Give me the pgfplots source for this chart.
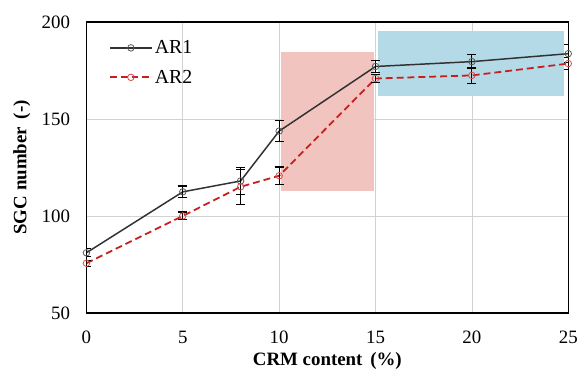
\documentclass[border=0pt]{standalone}
\usepackage{pgfplots}
\pgfplotsset{compat=1.18}
\usepackage{fontspec}
\setmainfont{Liberation Serif}
\definecolor{pinkbox}{RGB}{242,196,192}
\definecolor{bluebox}{RGB}{180,218,232}
\definecolor{arone}{RGB}{50,50,50}
\definecolor{artwo}{RGB}{200,30,30}
\begin{document}
\begin{tikzpicture}
\begin{axis}[
  scale only axis,
  width=485bp, height=293bp,
  xmin=0, xmax=25, ymin=50, ymax=200,
  xtick={0,5,10,15,20,25},
  ytick={50,100,150,200},
  grid=major,
  grid style={gray!35, line width=0.7pt},
  major tick length=0pt,
  axis line style={black, line width=1.4pt},
  /pgf/number format/assume math mode=true,
  tick label style={font=\fontsize{19bp}{21bp}\selectfont},
  xticklabel style={anchor=center, yshift=-25bp},
  yticklabel style={xshift=-13bp},
  xlabel={\textbf{CRM content\, (\%)}},
  ylabel={\textbf{SGC number\, (-)}},
  label style={font=\fontsize{19bp}{21bp}\selectfont},
  xlabel style={at={(axis description cs:0.5,0)}, anchor=center, yshift=-48bp},
  ylabel style={at={(axis description cs:-0.134,0.5)}, anchor=center},
  legend style={at={(0.04,0.95)}, anchor=north west, draw=none, fill=none,
    font=\fontsize{20bp}{22bp}\selectfont, row sep=11bp},
  legend cell align=left,
  legend image code/.code={
    \draw[#1, mark=none] (0cm,0cm) -- (1.5cm,0cm);
    \draw[#1, only marks] plot coordinates {(0.75cm,0cm)};
  },
]
\addplot[fill=pinkbox, draw=none, forget plot] coordinates {(10.1,113) (14.9,113) (14.9,184.7) (10.1,184.7)} -- cycle;
\addplot[fill=bluebox, draw=none, forget plot] coordinates {(15.15,161.6) (24.8,161.6) (24.8,195.4) (15.15,195.4)} -- cycle;

\addplot[arone, line width=1.5pt, mark=o, mark size=3.3pt, mark options={solid, gray!70!black, line width=0.8pt},
  error bars/.cd, y dir=both, y explicit,
  error bar style={black, line width=1.1pt}, error mark options={black, line width=1.1pt, mark size=4.5pt, rotate=90}]
coordinates {
 (0,81) +- (0,2)
 (5,112.4) +- (0,3)
 (8,118) +- (0,7)
 (10,143.7) +- (0,5.5)
 (15,177) +- (0,3)
 (20,179.5) +- (0,3.5)
 (25,183.6) +- (0,4.5)
};
\addlegendentry{AR1}

\addplot[artwo, dashed, dash pattern=on 7pt off 4pt, line width=1.8pt, mark=o, mark size=3.3pt, mark options={solid, artwo!80, line width=0.8pt},
  error bars/.cd, y dir=both, y explicit,
  error bar style={black, solid, line width=1.1pt}, error mark options={black, solid, line width=1.1pt, mark size=4.5pt, rotate=90}]
coordinates {
 (0,75.6) +- (0,1.5)
 (5,100) +- (0,2)
 (8,115) +- (0,9)
 (10,120.7) +- (0,4.5)
 (15,170.8) +- (0,2)
 (20,172.4) +- (0,4)
 (25,178.5) +- (0,3)
};
\addlegendentry{AR2}
\end{axis}
\path (current axis.south west) ++(-87bp,-57bp) rectangle ++(581bp,372bp);
\end{tikzpicture}
\end{document}
